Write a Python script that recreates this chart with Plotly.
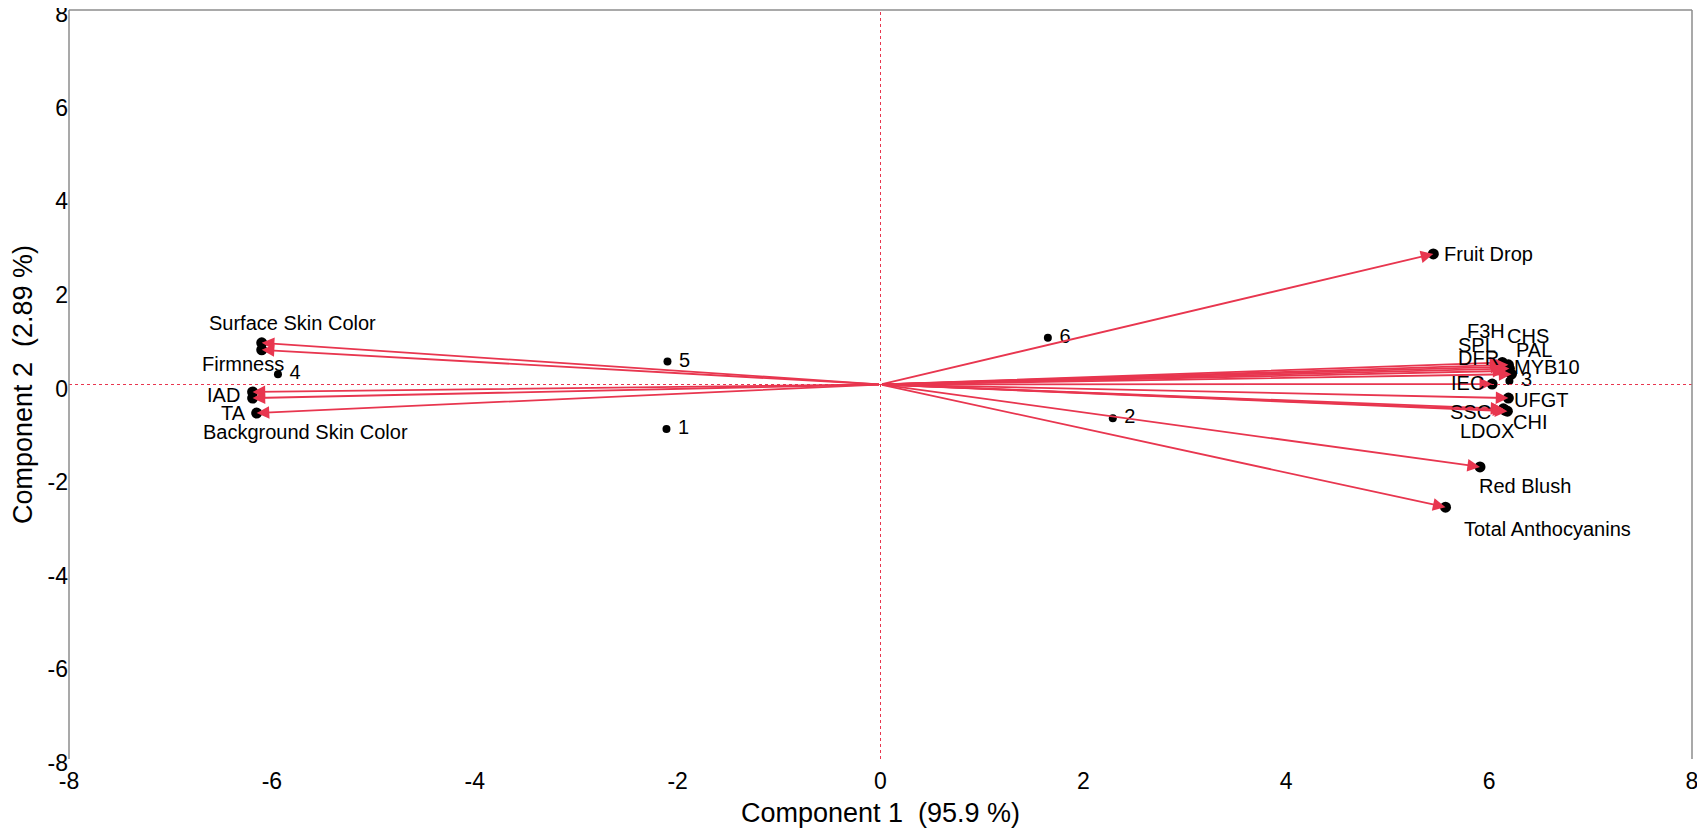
import plotly.graph_objects as go

# PCA biplot: loadings (variables) and scores (samples)
variables = ["Fruit Drop", "F3H", "CHS", "SPL", "PAL", "DFR", "MYB10", "IEC",
             "UFGT", "SSC", "CHI", "LDOX", "Red Blush", "Total Anthocyanins",
             "Surface Skin Color", "Firmness", "IAD", "Background Skin Color", "TA"]
var_pc1 = [5.45, 6.13, 6.19, 6.14, 6.20, 6.16, 6.22, 6.03,
           6.19, 6.14, 6.18, 6.16, 5.91, 5.57,
           -6.10, -6.10, -6.19, -6.19, -6.15]
var_pc2 = [2.79, 0.47, 0.42, 0.38, 0.34, 0.29, 0.22, 0.01,
           -0.29, -0.52, -0.57, -0.55, -1.76, -2.62,
           0.89, 0.74, -0.16, -0.29, -0.61]

samples = ["1", "2", "3", "4", "5", "6"]
pc1 = [-2.11, 2.29, 6.20, -5.94, -2.10, 1.65]
pc2 = [-0.95, -0.72, 0.075, 0.22, 0.49, 1.00]

x_title = "Component 1  (95.9 %)"
y_title = "Component 2  (2.89 %)"
ticks = [-8, -6, -4, -2, 0, 2, 4, 6, 8]
tick_text = [str(t) for t in ticks]

# label offsets in pixels (dx right, dy down), like a text-repel result
label_shift = {
    "Fruit Drop": (55, 0), "F3H": (-16, -32), "CHS": (20, -29), "SPL": (-26, -22),
    "PAL": (25, -19), "DFR": (-27, -13), "MYB10": (36, -7), "IEC": (-25, -1),
    "UFGT": (33, 2), "SSC": (-33, 3), "CHI": (23, 11), "LDOX": (-18, 21),
    "Red Blush": (45, 19), "Total Anthocyanins": (102, 22),
    "Surface Skin Color": (31, -20), "Firmness": (-19, 14), "IAD": (-29, 3),
    "Background Skin Color": (53, 34), "TA": (-23, 0),
}

RED = "#E8364F"
FONT = "Liberation Sans, Arial, Helvetica, sans-serif"

fig = go.Figure()

# black dots at the arrow tips
fig.add_trace(go.Scatter(
    x=var_pc1, y=var_pc2, mode="markers",
    marker=dict(color="black", size=11),
    hovertext=variables, hoverinfo="text", showlegend=False
))

# sample scores
fig.add_trace(go.Scatter(
    x=pc1, y=pc2, mode="markers+text",
    text=[" " + s for s in samples], textposition="middle right",
    textfont=dict(size=20, color="black", family=FONT),
    marker=dict(color="black", size=8),
    showlegend=False
))

# loading arrows from the origin
for name, vx, vy in zip(variables, var_pc1, var_pc2):
    fig.add_annotation(
        x=vx, y=vy, ax=0, ay=0, xref="x", yref="y", axref="x", ayref="y",
        text="", showarrow=True, arrowhead=2, arrowsize=1.4, arrowwidth=1.8,
        arrowcolor=RED, standoff=0
    )
    dx, dy = label_shift[name]
    fig.add_annotation(
        x=vx, y=vy, xref="x", yref="y", text=name, showarrow=False,
        xshift=dx, yshift=-dy, font=dict(size=20, color="black", family=FONT)
    )

# dashed reference lines through the origin
fig.add_vline(x=0, line=dict(color=RED, width=1, dash="dot"))
fig.add_hline(y=0, line=dict(color=RED, width=1, dash="dot"))

# frame: left, top and right edges
for x0, y0, x1, y1 in [(0, 0, 0, 1), (0, 1, 1, 1), (1, 0, 1, 1)]:
    fig.add_shape(type="line", xref="paper", yref="paper", x0=x0, y0=y0, x1=x1, y1=y1,
                  line=dict(color="#8c8c8c", width=1.5))

# the page body keeps its default 8px margin, so the figure is sized to fit inside it
fig.update_layout(
    width=1697, height=822,
    margin=dict(l=61, r=13, t=2, b=71),
    paper_bgcolor="white", plot_bgcolor="white",
    font=dict(family=FONT, color="black"),
    xaxis=dict(
        range=[-8, 8], tickvals=ticks, ticktext=tick_text, showgrid=False,
        zeroline=False, showline=False, ticklabeloverflow="allow", automargin=False,
        tickfont=dict(size=23), ticklabelstandoff=6,
        title=dict(text=x_title, font=dict(size=27), standoff=10),
    ),
    yaxis=dict(
        range=[-8, 8], tickvals=ticks, ticktext=tick_text, showgrid=False,
        zeroline=False, showline=False, ticklabeloverflow="allow", automargin=False,
        tickfont=dict(size=23), ticklabelshift=4,
        title=dict(text=y_title, font=dict(size=27), standoff=12),
    ),
)

fig.write_html("out.html")
